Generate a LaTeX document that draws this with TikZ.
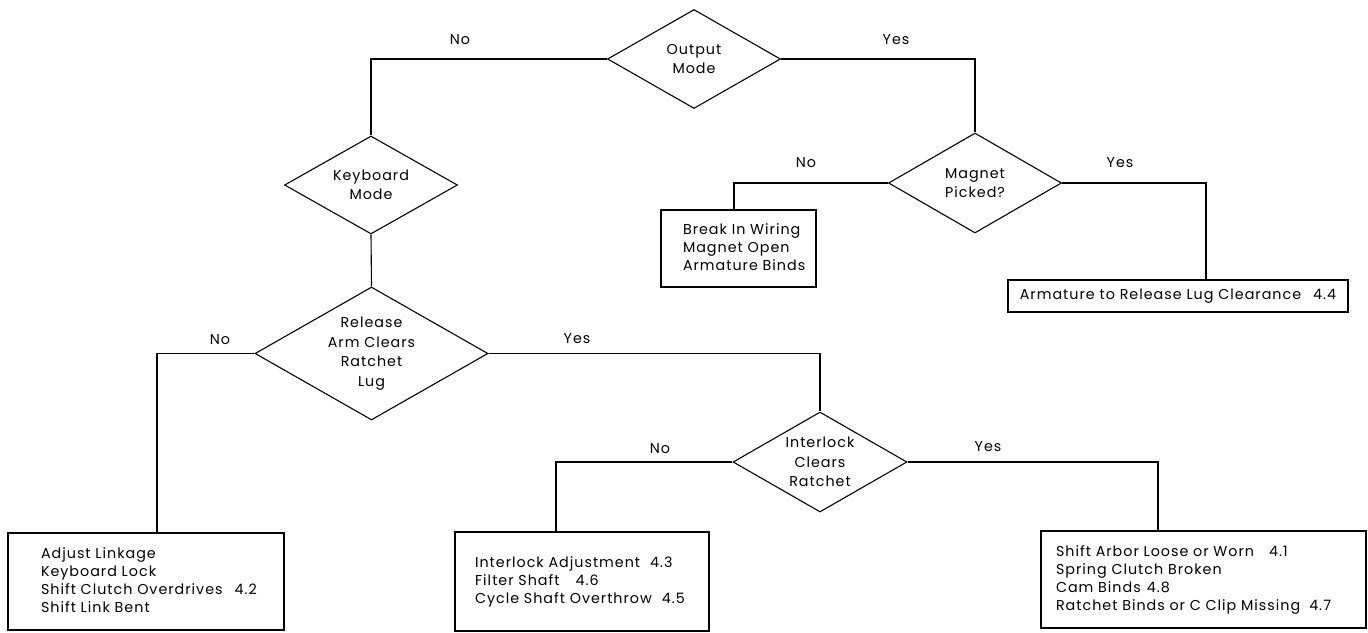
\documentclass[tikz,border=0pt]{standalone}
\usepackage{fontspec}
\setmainfont{Poppins}[LetterSpace=7]
\usetikzlibrary{shapes.geometric}
\begin{document}
\begin{tikzpicture}[x=1pt,y=-1pt, line width=1.1pt,
  every node/.style={font=\fontsize{14.3}{18}\selectfont},
  dec/.style={draw, shape=diamond, inner xsep=-30pt, inner ysep=-25pt, align=center, font=\fontsize{14.3}{19.5}\selectfont},
  box/.style={draw, rectangle, inner ysep=0pt},
  lbl/.style={inner sep=0pt}]
\useasboundingbox (0,0) rectangle (1368,632);

% decisions
\node[dec, minimum width=173pt, minimum height=99pt] (om) at (694,59) {Output\\Mode};
\node[dec, minimum width=173pt, minimum height=98pt] (kb) at (371,185) {Keyboard\\Mode};
\node[dec, minimum width=173pt, minimum height=100pt] (mp) at (975,183) {Magnet\\Picked?};
\node[dec, minimum width=233pt, minimum height=133pt] (ra) at (371.5,353.5) {Release\\Arm Clears\\Ratchet\\Lug};
\node[dec, minimum width=174pt, minimum height=100pt] (ic) at (820,462) {Interlock\\Clears\\Ratchet};

% result boxes
\node[box, minimum height=77pt, text width=111pt, inner xsep=22pt] (b1) at (738.5,248.5)
  {\begin{tabular}{@{}l@{}}Break In Wiring\\Magnet Open\\Armature Binds\end{tabular}};
\node[box, minimum width=340pt, minimum height=32pt] (b2) at (1178,296)
  {Armature to Release Lug Clearance\hspace{12pt}4.4};
\node[box, minimum height=97pt, text width=210pt, inner xsep=33pt] (b3) at (146,581.5)
  {\begin{tabular}{@{}l@{}}Adjust Linkage\\Keyboard Lock\\Shift Clutch Overdrives\hspace{12pt}4.2\\Shift Link Bent\end{tabular}};
\node[box, minimum height=99pt, text width=214pt, inner xsep=20pt] (b4) at (582,581.5)
  {\begin{tabular}{@{}l@{}}Interlock Adjustment\hspace{10pt}4.3\\Filter Shaft\hspace{16pt}4.6\\Cycle Shaft Overthrow\hspace{10pt}4.5\end{tabular}};
\node[box, minimum height=97pt, text width=295pt, inner xsep=15pt] (b5) at (1203.5,579.5)
  {\begin{tabular}{@{}l@{}}Shift Arbor Loose or Worn\hspace{15pt}4.1\\Spring Clutch Broken\\Cam Binds\hspace{6pt}4.8\\Ratchet Binds or C Clip Missing\hspace{9pt}4.7\end{tabular}};

% connectors
\draw (om.west) -| (kb.north);
\draw (om.east) -| (mp.north);
\draw (kb.south) -- (ra.north);
\draw (mp.west) -| ([xshift=-4.5pt]b1.north);
\draw (mp.east) -| ([xshift=28pt]b2.north);
\draw (ra.west) -| ([xshift=11pt]b3.north);
\draw (ra.east) -| (ic.north);
\draw (ic.west) -| ([xshift=-26pt]b4.north);
\draw (ic.east) -| ([xshift=-45.5pt]b5.north);

% branch labels
\node[lbl] (l1) at (460,40) {No};
\node[lbl] (l2) at (896,40) {Yes};
\node[lbl] (l3) at (806,163) {No};
\node[lbl] (l4) at (1120,163) {Yes};
\node[lbl] (l5) at (220,340) {No};
\node[lbl] (l6) at (577,339) {Yes};
\node[lbl] (l7) at (660,449) {No};
\node[lbl] (l8) at (988,447) {Yes};
\end{tikzpicture}
\end{document}
